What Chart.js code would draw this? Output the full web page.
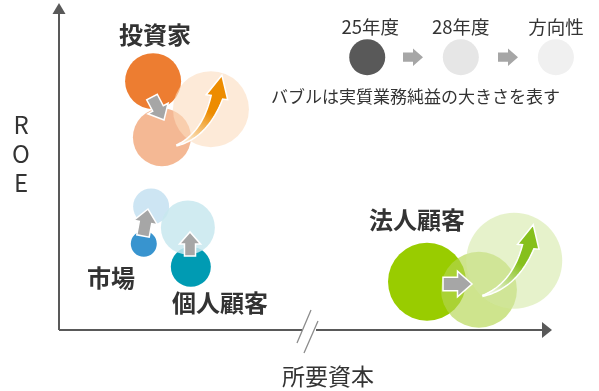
<!DOCTYPE html>
<html>
<head>
<meta charset="utf-8">
<script src="https://cdn.jsdelivr.net/npm/chart.js@4"></script>
<style>
  html, body { margin: 0; padding: 0; background: #fff; }
  #wrap { width: 599px; height: 391px; position: relative; }
</style>
</head>
<body>
<div id="wrap"><canvas id="c" width="599" height="391"></canvas></div>
<script>
// segments and positions (x: 所要資本, y: ROE, r: 実質業務純益 bubble size)
const segments = ['投資家', '市場', '個人顧客', '法人顧客'];
const fy25 = [
  { x: 19.0, y: 77.7, r: 28 },
  { x: 17.1, y: 26.7, r: 13 },
  { x: 26.7, y: 19.5, r: 20 },
  { x: 74.9, y: 14.8, r: 39 }
];
const fy28 = [
  { x: 20.8, y: 60.1, r: 29 },
  { x: 18.6, y: 38.4, r: 18 },
  { x: 26.1, y: 31.8, r: 27 },
  { x: 85.5, y: 12.3, r: 38 }
];
// 方向性 (only 投資家 and 法人顧客)
const direction = [
  { x: 30.8, y: 68.9, r: 38 },
  null,
  null,
  { x: 92.7, y: 21.4, r: 48 }
];
const legendLabels = ['25年度', '28年度', '方向性'];
const legendPoints = [
  { x: 62.7, y: 85.2, r: 18 },
  { x: 81.8, y: 85.2, r: 18 },
  { x: 101.2, y: 85.2, r: 18 }
];

const col25 = ['#ed7d31', '#3894cf', '#009bb3', '#99cc00'];
const col28 = ['rgba(240,160,112,0.75)', 'rgba(200,226,242,0.9)', 'rgba(200,232,238,0.85)', 'rgba(180,214,80,0.65)'];
const colDir = ['rgba(251,220,190,0.6)', null, null, 'rgba(210,232,160,0.55)'];
const dirArrowCol = ['#ed8c00', null, null, '#86c01c'];

const labelPos = [
  { x: 155, y: 35 }, { x: 111, y: 278 }, { x: 220, y: 303 }, { x: 417, y: 220 }
];

function grayArrow(ctx, x0, y0, x1, y1, fill) {
  const ang = Math.atan2(y1 - y0, x1 - x0);
  const len = Math.hypot(x1 - x0, y1 - y0);
  const hl = len * 0.5, hw = len * 0.44, sw = len * 0.23;
  ctx.save();
  ctx.translate(x0, y0);
  ctx.rotate(ang);
  ctx.beginPath();
  ctx.moveTo(0, -sw);
  ctx.lineTo(len - hl, -sw);
  ctx.lineTo(len - hl, -hw);
  ctx.lineTo(len, 0);
  ctx.lineTo(len - hl, hw);
  ctx.lineTo(len - hl, sw);
  ctx.lineTo(0, sw);
  ctx.closePath();
  ctx.fillStyle = fill || '#a6a6a6';
  ctx.fill();
  if (!fill) {
    ctx.strokeStyle = '#fff';
    ctx.lineWidth = 1.5;
    ctx.stroke();
  }
  ctx.restore();
}

function curvedArrow(ctx, p0, c, p2, tip, color) {
  const n = 30, pts = [];
  for (let i = 0; i <= n; i++) {
    const t = i / n;
    const x = (1 - t) * (1 - t) * p0[0] + 2 * (1 - t) * t * c[0] + t * t * p2[0];
    const y = (1 - t) * (1 - t) * p0[1] + 2 * (1 - t) * t * c[1] + t * t * p2[1];
    const dx = 2 * (1 - t) * (c[0] - p0[0]) + 2 * t * (p2[0] - c[0]);
    const dy = 2 * (1 - t) * (c[1] - p0[1]) + 2 * t * (p2[1] - c[1]);
    const d = Math.hypot(dx, dy) || 1;
    const w = 0.5 + 5.5 * t;
    pts.push({ x, y, nx: -dy / d * w, ny: dx / d * w });
  }
  const hx = tip[0] - p2[0], hy = tip[1] - p2[1];
  const hd = Math.hypot(hx, hy);
  const px = -hy / hd * 11, py = hx / hd * 11;
  ctx.save();
  ctx.beginPath();
  pts.forEach((p, i) => i ? ctx.lineTo(p.x + p.nx, p.y + p.ny) : ctx.moveTo(p.x + p.nx, p.y + p.ny));
  ctx.lineTo(p2[0] + px, p2[1] + py);
  ctx.lineTo(tip[0], tip[1]);
  ctx.lineTo(p2[0] - px, p2[1] - py);
  for (let i = n; i >= 0; i--) ctx.lineTo(pts[i].x - pts[i].nx, pts[i].y - pts[i].ny);
  ctx.closePath();
  const g = ctx.createLinearGradient(p0[0], p0[1], tip[0], tip[1]);
  g.addColorStop(0, '#ffffff');
  g.addColorStop(0.55, color);
  g.addColorStop(1, color);
  ctx.fillStyle = g;
  ctx.fill();
  ctx.strokeStyle = '#fff';
  ctx.lineWidth = 1.5;
  ctx.stroke();
  ctx.restore();
}

const decor = {
  id: 'decor',
  afterDatasetsDraw(chart) {
    const { ctx, chartArea: a, scales: { x, y } } = chart;
    const P = d => [x.getPixelForValue(d.x), y.getPixelForValue(d.y)];
    const axis = '#595959';
    ctx.save();
    // axes
    ctx.strokeStyle = axis;
    ctx.lineWidth = 2;
    ctx.beginPath();
    ctx.moveTo(a.left - 1, a.bottom + 1);
    ctx.lineTo(a.left - 1, a.top + 2);
    ctx.moveTo(a.left - 1, a.bottom + 1);
    ctx.lineTo(302, a.bottom + 1);
    ctx.moveTo(316, a.bottom + 1);
    ctx.lineTo(a.right - 6, a.bottom + 1);
    ctx.stroke();
    ctx.fillStyle = axis;
    ctx.beginPath();
    ctx.moveTo(a.left - 1, a.top - 7);
    ctx.lineTo(a.left - 7.5, a.top + 4);
    ctx.lineTo(a.left + 5.5, a.top + 4);
    ctx.fill();
    ctx.beginPath();
    ctx.moveTo(a.right + 2, a.bottom + 1);
    ctx.lineTo(a.right - 8, a.bottom - 7);
    ctx.lineTo(a.right - 8, a.bottom + 9);
    ctx.fill();
    // axis break
    ctx.strokeStyle = '#8c8c8c';
    ctx.lineWidth = 1.3;
    ctx.beginPath();
    ctx.moveTo(311, 310); ctx.lineTo(297, 343);
    ctx.moveTo(318, 321); ctx.lineTo(304, 353);
    ctx.stroke();

    // arrows 25 -> 28
    const gray = [[[152, 97], [164, 120]], [[143, 236], [148, 209]], [[190, 256], [190, 232]], [[443, 284], [472, 284]]];
    gray.forEach(g => grayArrow(ctx, g[0][0], g[0][1], g[1][0], g[1][1]));
    // curved arrows 28 -> 方向性
    direction.forEach((d, i) => {
      if (!d) return;
      const s = P(fy28[i]), e = P(d);
      const p0 = [s[0] + 15, s[1] + 8];
      const tip = [e[0] + 11, e[1] - 34];
      if (i === 3) { p0[0] = s[0] + 4; p0[1] = s[1] + 6; tip[0] = e[0] + 19; tip[1] = e[1] - 36; }
      const p2 = [tip[0] - 5, tip[1] + 22];
      const c = [p0[0] + (p2[0] - p0[0]) * 0.7, p0[1] - 10];
      curvedArrow(ctx, p0, c, p2, tip, dirArrowCol[i]);
    });

    // legend
    const lp = legendPoints.map(P);
    grayArrow(ctx, 403, lp[0][1], 423, lp[0][1], '#a6a6a6');
    grayArrow(ctx, 498, lp[0][1], 518, lp[0][1], '#a6a6a6');
    ctx.fillStyle = '#333';
    ctx.font = '18.5px "Noto Sans CJK JP"';
    ctx.textAlign = 'center';
    ctx.textBaseline = 'middle';
    legendLabels.forEach((t, i) => ctx.fillText(t, lp[i][0] + (i === 0 ? 3 : 0), 27));
    ctx.font = '17px "Noto Sans CJK JP"';
    ctx.textAlign = 'left';
    ctx.fillText('バブルは実質業務純益の大きさを表す', 271, 97);

    // segment labels
    ctx.font = 'bold 24px "Noto Sans CJK JP"';
    ctx.textAlign = 'center';
    segments.forEach((s, i) => ctx.fillText(s, labelPos[i].x, labelPos[i].y));

    // axis titles
    ctx.font = '24px "Noto Sans CJK JP"';
    ['R', 'O', 'E'].forEach((ch, i) => ctx.fillText(ch, 21, 125 + i * 29));
    ctx.font = '23px "Noto Sans CJK JP"';
    ctx.fillText('所要資本', 328, 376);
    ctx.restore();
  }
};

const ds = [];
direction.forEach((d, i) => {
  if (d) ds.push({ data: [d], backgroundColor: colDir[i], borderWidth: 0 });
});
ds.push({ data: fy28, backgroundColor: col28, borderWidth: 0 });
ds.push({ data: fy25, backgroundColor: col25, borderWidth: 0 });
ds.push({ data: legendPoints, backgroundColor: ['#595959', '#e6e6e6', '#f0f0f0'], borderWidth: 0 });

new Chart(document.getElementById('c'), {
  type: 'bubble',
  data: { datasets: ds.map(d => ({ ...d, clip: false, hoverRadius: 0 })) },
  options: {
    responsive: false,
    animation: false,
    events: [],
    layout: { autoPadding: false, padding: { left: 60, top: 10, right: 49, bottom: 62 } },
    plugins: { legend: { display: false }, tooltip: { enabled: false } },
    scales: {
      x: { display: false, min: 0, max: 100 },
      y: { display: false, min: 0, max: 100 }
    }
  },
  plugins: [decor]
});
</script>
</body>
</html>
